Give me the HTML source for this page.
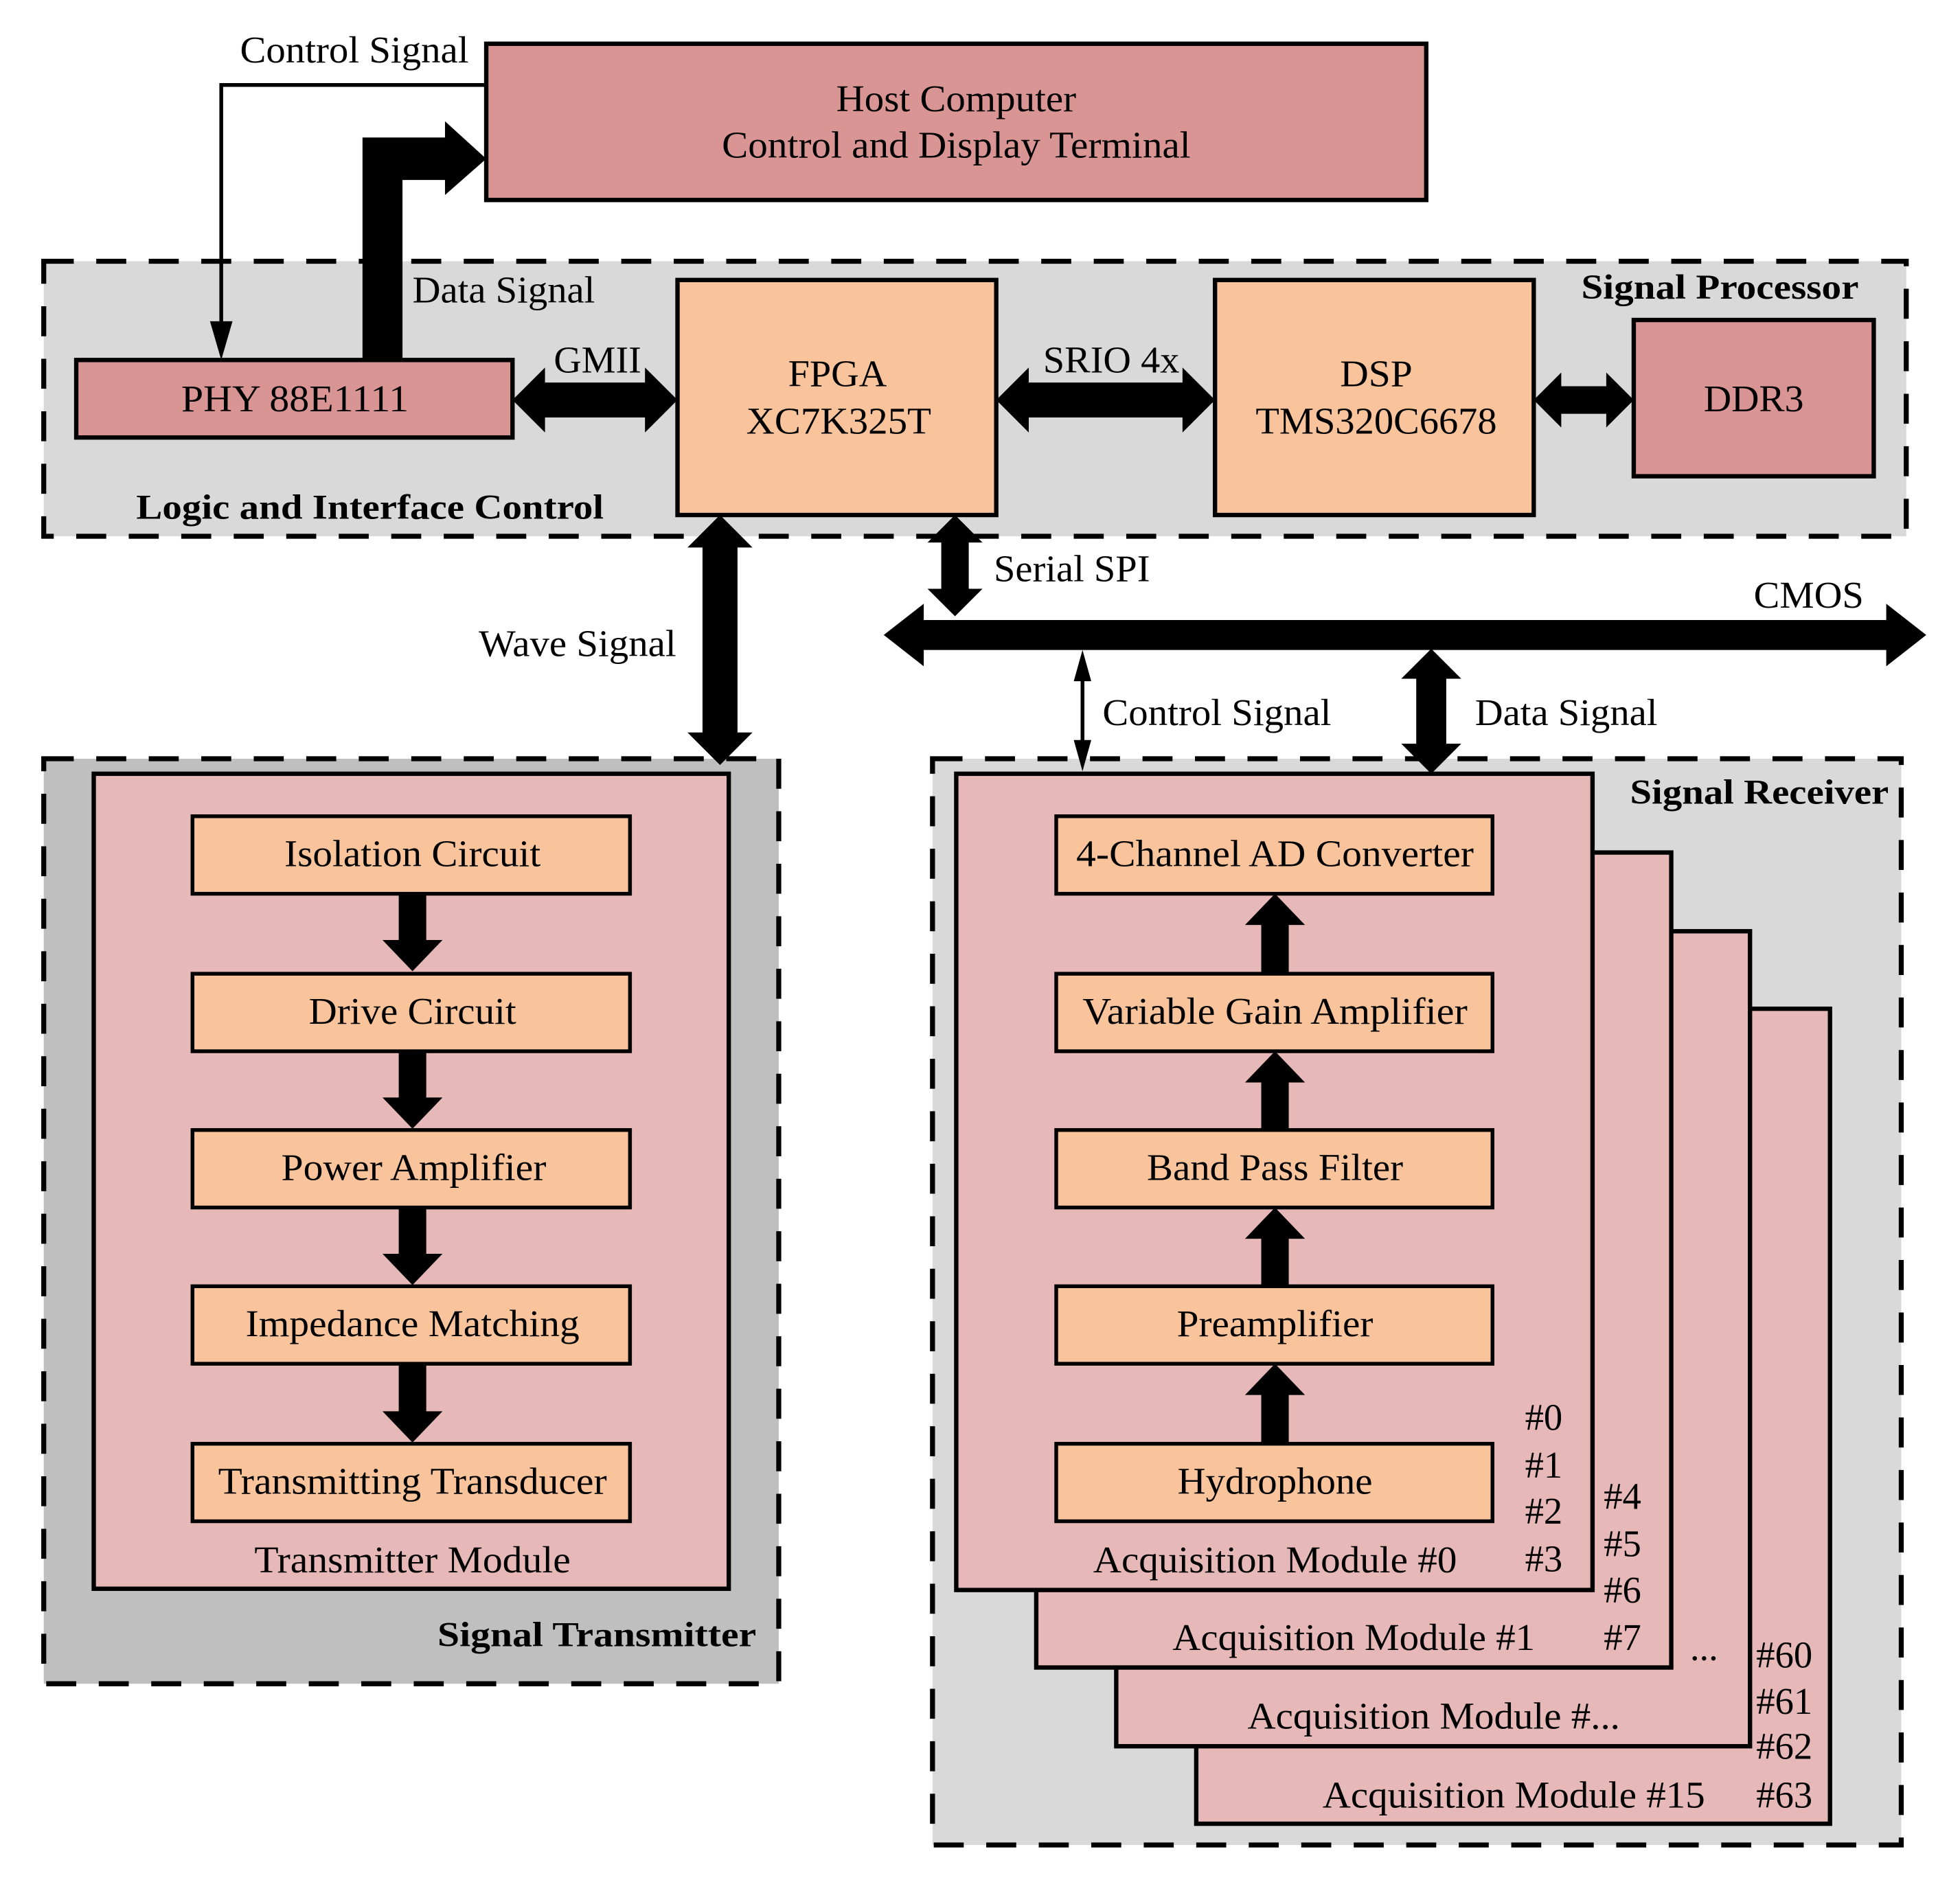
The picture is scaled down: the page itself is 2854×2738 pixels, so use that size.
<!DOCTYPE html>
<html><head><meta charset="utf-8"><style>
html,body{margin:0;padding:0;background:#fff}
svg{display:block}
text{font-family:"Liberation Serif","Times New Roman","DejaVu Serif",serif;font-size:30px;fill:#000}
.b{font-weight:bold;font-size:28px}
</style></head><body>
<svg width="2854" height="2738" viewBox="0 0 1568 1504" preserveAspectRatio="none" xmlns="http://www.w3.org/2000/svg" font-family="Liberation Serif, serif">
<g stroke="#000" stroke-width="4" stroke-dasharray="24,18">
<rect x="35" y="209" width="1490" height="220" fill="#d9d9d9"/>
<rect x="35" y="607" width="588" height="740" fill="#bfbfbf"/>
<rect x="746" y="607" width="775" height="869" fill="#d9d9d9"/>
</g>
<g stroke="#000" stroke-width="3.5">
<rect x="389" y="35" width="752" height="125" fill="#d99594"/>
<rect x="61" y="288" width="349" height="62" fill="#d99594"/>
<rect x="542" y="224" width="255" height="188" fill="#f9c49b"/>
<rect x="972" y="224" width="255" height="188" fill="#f9c49b"/>
<rect x="1307" y="256" width="192" height="125" fill="#d99594"/>
<rect x="75" y="619" width="508" height="652" fill="#e6b8b7"/>
<rect x="957" y="807" width="507" height="652" fill="#e6b8b7"/>
<rect x="893" y="745" width="507" height="652" fill="#e6b8b7"/>
<rect x="829" y="682" width="508" height="652" fill="#e6b8b7"/>
<rect x="765" y="619" width="509" height="653" fill="#e6b8b7"/>
<g fill="#f9c49b" stroke-width="3">
<rect x="154" y="653" width="350" height="62"/><rect x="154" y="779" width="350" height="62"/>
<rect x="154" y="904" width="350" height="62"/><rect x="154" y="1029" width="350" height="62"/>
<rect x="154" y="1155" width="350" height="62"/>
<rect x="845" y="653" width="349" height="62"/><rect x="845" y="779" width="349" height="62"/>
<rect x="845" y="904" width="349" height="62"/><rect x="845" y="1029" width="349" height="62"/>
<rect x="845" y="1155" width="349" height="62"/>
</g>
</g>
<polyline points="389,68 177,68 177,260" fill="none" stroke="#000" stroke-width="3"/>
<polygon points="168,257 186,257 177,288" fill="#000"/>
<polygon points="290,288 290,110 356,110 356,97 389,127 356,156 356,144 322,144 322,288" fill="#000"/>
<g fill="#000">
<polygon points="410,320 436,294 436,306 516,306 516,294 542,320 516,346 516,334 436,334 436,346"/>
<polygon points="797,320 823,294 823,306 946,306 946,294 972,320 946,346 946,334 823,334 823,346"/>
<polygon points="1227,320 1249,298 1249,309 1285,309 1285,298 1307,320 1285,342 1285,331 1249,331 1249,342"/>
<polygon points="707,508 739,483 739,496 1509,496 1509,483 1541,508 1509,533 1509,520 739,520 739,533"/>
<polygon points="576,412 602,438 590,438 590,586 602,586 576,612 550,586 562,586 562,438 550,438"/>
<polygon points="764,412 786,434 775,434 775,471 786,471 764,493 742,471 753,471 753,434 742,434"/>
<polygon points="1145,519 1169,543 1157,543 1157,595 1169,595 1145,619 1121,595 1133,595 1133,543 1121,543"/>
<polygon points="866,520 873,545 859,545"/><polygon points="866,617 873,592 859,592"/>
</g>
<line x1="866" y1="540" x2="866" y2="597" stroke="#000" stroke-width="3"/>
<g fill="#000">
<polygon points="319,715 341,715 341,752 354,752 330,777 306,752 319,752"/>
<polygon points="319,841 341,841 341,878 354,878 330,903 306,878 319,878"/>
<polygon points="319,966 341,966 341,1003 354,1003 330,1028 306,1003 319,1003"/>
<polygon points="319,1091 341,1091 341,1129 354,1129 330,1154 306,1129 319,1129"/>
<polygon points="1009,779 1031,779 1031,740 1044,740 1020,715 996,740 1009,740"/>
<polygon points="1009,904 1031,904 1031,866 1044,866 1020,841 996,866 1009,866"/>
<polygon points="1009,1029 1031,1029 1031,991 1044,991 1020,966 996,991 1009,991"/>
<polygon points="1009,1155 1031,1155 1031,1116 1044,1116 1020,1091 996,1116 1009,1116"/>
</g>
<g text-anchor="middle" lengthAdjust="spacingAndGlyphs">
<text x="765" y="89" textLength="192" lengthAdjust="spacingAndGlyphs">Host Computer</text>
<text x="765" y="126" textLength="375" lengthAdjust="spacingAndGlyphs">Control and Display Terminal</text>
<text x="236" y="329" textLength="182" lengthAdjust="spacingAndGlyphs">PHY 88E1111</text>
<text x="670" y="309" textLength="79" lengthAdjust="spacingAndGlyphs">FPGA</text>
<text x="671" y="347" textLength="148" lengthAdjust="spacingAndGlyphs">XC7K325T</text>
<text x="1101" y="309" textLength="58" lengthAdjust="spacingAndGlyphs">DSP</text>
<text x="1101" y="347" textLength="193" lengthAdjust="spacingAndGlyphs">TMS320C6678</text>
<text x="1403" y="329" textLength="80" lengthAdjust="spacingAndGlyphs">DDR3</text>
<text x="478" y="298" textLength="70" lengthAdjust="spacingAndGlyphs">GMII</text>
<text x="889" y="298" textLength="109" lengthAdjust="spacingAndGlyphs">SRIO 4x</text>
<text x="330" y="693" textLength="205" lengthAdjust="spacingAndGlyphs">Isolation Circuit</text>
<text x="330" y="819" textLength="166" lengthAdjust="spacingAndGlyphs">Drive Circuit</text>
<text x="331" y="944" textLength="212" lengthAdjust="spacingAndGlyphs">Power Amplifier</text>
<text x="330" y="1069" textLength="267" lengthAdjust="spacingAndGlyphs">Impedance Matching</text>
<text x="330" y="1195" textLength="311" lengthAdjust="spacingAndGlyphs">Transmitting Transducer</text>
<text x="330" y="1258" textLength="253" lengthAdjust="spacingAndGlyphs">Transmitter Module</text>
<text x="1020" y="693" textLength="318" lengthAdjust="spacingAndGlyphs">4-Channel AD Converter</text>
<text x="1020" y="819" textLength="308" lengthAdjust="spacingAndGlyphs">Variable Gain Amplifier</text>
<text x="1020" y="944" textLength="205" lengthAdjust="spacingAndGlyphs">Band Pass Filter</text>
<text x="1020" y="1069" textLength="157" lengthAdjust="spacingAndGlyphs">Preamplifier</text>
<text x="1020" y="1195" textLength="156" lengthAdjust="spacingAndGlyphs">Hydrophone</text>
<text x="1020" y="1258" textLength="291" lengthAdjust="spacingAndGlyphs">Acquisition Module #0</text>
<text x="1083" y="1320" textLength="290" lengthAdjust="spacingAndGlyphs">Acquisition Module #1</text>
<text x="1147" y="1383" textLength="298" lengthAdjust="spacingAndGlyphs">Acquisition Module #...</text>
<text x="1211" y="1446" textLength="306" lengthAdjust="spacingAndGlyphs">Acquisition Module #15</text>
</g>
<text x="192" y="50" textLength="183" lengthAdjust="spacingAndGlyphs">Control Signal</text>
<text x="330" y="242" textLength="146" lengthAdjust="spacingAndGlyphs">Data Signal</text>
<text x="383" y="525" textLength="158" lengthAdjust="spacingAndGlyphs">Wave Signal</text>
<text x="795" y="465" textLength="125" lengthAdjust="spacingAndGlyphs">Serial SPI</text>
<text x="1403" y="486" textLength="88" lengthAdjust="spacingAndGlyphs">CMOS</text>
<text x="882" y="580" textLength="183" lengthAdjust="spacingAndGlyphs">Control Signal</text>
<text x="1180" y="580" textLength="146" lengthAdjust="spacingAndGlyphs">Data Signal</text>
<text class="b" x="1265" y="239" textLength="222" lengthAdjust="spacingAndGlyphs">Signal Processor</text>
<text class="b" x="109" y="415" textLength="374" lengthAdjust="spacingAndGlyphs">Logic and Interface Control</text>
<text class="b" x="350" y="1317" textLength="255" lengthAdjust="spacingAndGlyphs">Signal Transmitter</text>
<text class="b" x="1304" y="643" textLength="207" lengthAdjust="spacingAndGlyphs">Signal Receiver</text>
<text x="1220" y="1144">#0</text><text x="1220" y="1182">#1</text><text x="1220" y="1219">#2</text><text x="1220" y="1257">#3</text>
<text x="1283" y="1207">#4</text><text x="1283" y="1245">#5</text><text x="1283" y="1282">#6</text><text x="1283" y="1320">#7</text>
<text x="1352" y="1328">...</text>
<text x="1405" y="1334">#60</text><text x="1405" y="1371">#61</text><text x="1405" y="1407">#62</text><text x="1405" y="1446">#63</text>
</svg>
</body></html>
